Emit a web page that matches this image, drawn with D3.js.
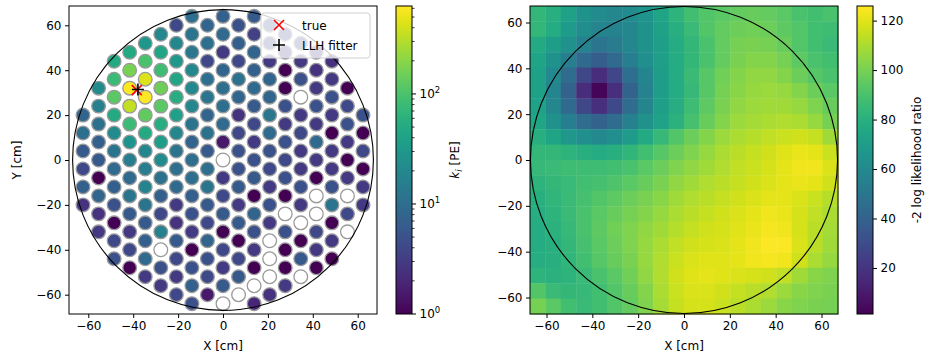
<!DOCTYPE html>
<html>
<head>
<meta charset="utf-8">
<script src="https://cdn.jsdelivr.net/npm/d3@7"></script>
<style>
  body { margin: 0; background: #fff; }
  text { font-family: "DejaVu Sans", sans-serif; fill: #000; }
</style>
</head>
<body>
<svg id="chart" width="927" height="358"></svg>
<script>
// ---- data -------------------------------------------------------------
// PMT hit charge k_i [PE], one array per hexagonal column (col -9 .. 9),
// listed from top to bottom. 0 means no hit (drawn white).
const pmtPitch = 8;          // cm between neighbours in a column
const detectorRadius = 67;   // cm
const pmtColumns = d3.range(-9, 10);
const pmtHits = [
  [8, 10, 6, 4, 7, 2.5],
  [22, 16, 11, 7, 6, 1, 8, 2.5, 3],
  [50, 80, 120, 50, 22, 12, 9, 7, 5, 1, 4, 5],
  [50, 170, 600, 350, 80, 28, 15, 9, 12, 6, 3, 4, 1],
  [30, 100, 450, 600, 130, 50, 20, 15, 18, 12, 6, 7, 9, 3],
  [20, 45, 85, 150, 120, 55, 35, 22, 11, 7, 4, 16, 0, 5, 3],
  [4, 20, 30, 45, 55, 38, 20, 12, 10, 9, 3, 2.5, 6, 4, 3, 4],
  [10, 12, 13, 20, 21, 20, 12, 8, 10, 10, 7, 5, 3, 1, 5, 7, 5],
  [8, 10, 4, 10, 12, 8, 11, 6, 10, 12, 6, 4, 8, 5, 4, 1.5],
  [7, 9, 3, 8, 10, 10, 9, 1.5, 0, 3, 4, 6, 1, 4, 3, 6, 0],
  [5, 7, 4, 11, 8, 2.5, 4, 5, 5, 6, 3, 6, 1, 4, 6, 0],
  [6, 3.5, 8, 7, 9, 6, 4, 3, 5, 6, 1, 8, 5, 3, 1, 0, 2],
  [5, 4, 3, 8, 8, 13, 9, 5, 4, 3, 5, 3, 0, 0, 0, 2.5],
  [4, 3, 1, 1, 5, 3, 5, 4, 5, 1, 0, 5, 1, 1, 3],
  [4, 3, 5, 0, 3, 4, 3, 3, 5, 3, 0, 1, 6, 0],
  [3, 2.5, 3, 5, 3, 9, 3, 1, 0, 0, 4, 3, 1],
  [2.5, 3, 5, 3, 1, 3, 3, 5, 12, 1, 3, 1],
  [1, 4, 5, 3, 1, 3, 0, 4, 0],
  [5, 1, 4, 1, 3, 3]
];

// true vertex and LLH fit result [x, y] in cm
const trueVertex = [-38.4, 31.1];
const fitVertex = [-37.9, 31.4];

// -2 log likelihood ratio scan, 20 x 20 cells over [-67.2, 67.2] cm,
// rows from top (y = +67) to bottom (y = -67)
const scanExtent = [-67.2, 67.2];
const llhScan = [
  [84, 80, 72, 65, 61, 59, 61, 66, 74, 82, 88, 92, 94, 96, 97, 96, 94, 90, 88, 90],
  [84, 78, 69, 62, 58, 57, 59, 65, 72, 80, 86, 92, 96, 98, 99, 98, 95, 92, 88, 87],
  [77, 70, 64, 56, 50, 53, 59, 65, 71, 78, 84, 90, 96, 100, 101, 100, 97, 92, 88, 86],
  [74, 65, 54, 44, 38, 44, 54, 63, 71, 78, 84, 90, 96, 101, 103, 103, 100, 95, 90, 88],
  [72, 60, 45, 28, 17, 28, 46, 58, 70, 78, 86, 93, 99, 103, 105, 105, 103, 98, 93, 90],
  [72, 58, 40, 17, 3, 18, 40, 56, 70, 78, 85, 93, 100, 104, 106, 107, 106, 103, 98, 94],
  [73, 59, 44, 28, 18, 29, 45, 58, 71, 79, 87, 95, 101, 105, 107, 108, 108, 106, 102, 97],
  [75, 64, 54, 45, 40, 45, 55, 64, 73, 81, 89, 97, 103, 107, 109, 110, 111, 110, 106, 100],
  [80, 74, 68, 63, 60, 63, 69, 77, 85, 92, 98, 103, 107, 110, 112, 114, 116, 117, 115, 108],
  [84, 84, 82, 80, 78, 80, 83, 88, 93, 98, 102, 106, 110, 113, 115, 117, 120, 122, 121, 116],
  [85, 86, 87, 87, 87, 88, 90, 94, 98, 102, 105, 108, 111, 114, 116, 118, 121, 123, 123, 119],
  [82, 84, 86, 88, 89, 91, 94, 97, 101, 105, 108, 111, 113, 115, 117, 119, 121, 122, 121, 117],
  [80, 83, 86, 89, 92, 95, 98, 101, 104, 108, 111, 113, 115, 117, 119, 121, 121, 119, 116, 112],
  [79, 82, 86, 90, 94, 97, 100, 103, 106, 110, 113, 115, 117, 119, 121, 123, 122, 118, 114, 110],
  [78, 81, 85, 90, 95, 99, 102, 105, 108, 112, 115, 117, 118, 120, 122, 124, 123, 118, 113, 109],
  [78, 80, 84, 89, 94, 98, 102, 106, 110, 114, 117, 118, 119, 121, 123, 125, 125, 119, 113, 108],
  [79, 80, 83, 88, 93, 97, 101, 106, 111, 116, 119, 120, 120, 121, 123, 124, 123, 117, 110, 106],
  [82, 81, 82, 86, 90, 94, 99, 105, 111, 117, 120, 121, 120, 119, 118, 117, 114, 108, 104, 102],
  [92, 86, 84, 85, 88, 92, 97, 103, 110, 116, 119, 119, 117, 115, 113, 111, 107, 104, 102, 101],
  [100, 94, 88, 86, 88, 92, 96, 102, 109, 115, 118, 118, 116, 113, 110, 107, 104, 102, 101, 100]
];

const axisTicks = [-60, -40, -20, 0, 20, 40, 60];
const hitRange = [1, 630];
const llhRange = [1.4, 125.9];
const llhTicks = [20, 40, 60, 80, 100, 120];

// ---- layout -----------------------------------------------------------
const svg = d3.select('#chart');
const fontSize = 12;
const tickLen = 4;
const fmt = d => d < 0 ? '\u2212' + Math.abs(d) : String(d);

const panelL = {x: 69, y: 6, size: 308};
const panelR = {x: 530, y: 6, size: 308};

const xL = d3.scaleLinear().domain([-68.6, 68.6]).range([panelL.x, panelL.x + panelL.size]);
const yL = d3.scaleLinear().domain([-68.6, 68.6]).range([panelL.y + panelL.size, panelL.y]);
const xR = d3.scaleLinear().domain(scanExtent).range([panelR.x, panelR.x + panelR.size]);
const yR = d3.scaleLinear().domain(scanExtent).range([panelR.y + panelR.size, panelR.y]);

const hitNorm = d3.scaleLog().domain(hitRange).range([0, 1]).clamp(true);
const hitColor = v => v > 0 ? d3.interpolateViridis(hitNorm(v)) : '#ffffff';
const llhColor = d3.scaleSequential(d3.interpolateViridis).domain(llhRange);

function drawAxes(x, y, panel) {
  const gx = svg.append('g')
    .attr('transform', `translate(0,${panel.y + panel.size})`)
    .call(d3.axisBottom(x).tickValues(axisTicks).tickFormat(fmt).tickSize(tickLen).tickPadding(3.5));
  const gy = svg.append('g')
    .attr('transform', `translate(${panel.x},0)`)
    .call(d3.axisLeft(y).tickValues(axisTicks).tickFormat(fmt).tickSize(tickLen).tickPadding(3.5));
  [gx, gy].forEach(g => {
    g.select('.domain').remove();
    g.selectAll('line').attr('stroke', '#000').attr('stroke-width', 1);
    g.selectAll('text').attr('font-size', fontSize).attr('font-family', '"DejaVu Sans", sans-serif').attr('fill', '#000');
  });
  svg.append('rect')
    .attr('x', panel.x).attr('y', panel.y)
    .attr('width', panel.size).attr('height', panel.size)
    .attr('fill', 'none').attr('stroke', '#000').attr('stroke-width', 1);
}

// ---- left panel: PMT hits --------------------------------------------
const colDx = pmtPitch * Math.sqrt(3) / 2;
const pmts = [];
pmtColumns.forEach((c, ci) => {
  const px = c * colDx;
  const offset = Math.abs(c) % 2 === 1 ? pmtPitch / 2 : 0;
  const ys = d3.range(-10, 11).map(k => offset + k * pmtPitch)
    .filter(py => Math.hypot(px, py) <= 66)
    .sort((a, b) => b - a);
  ys.forEach((py, j) => pmts.push({x: px, y: py, k: pmtHits[ci][j]}));
});

const gL = svg.append('g');
const pmtR = xL(3.05) - xL(0);
gL.selectAll('circle.pmt')
  .data(pmts)
  .enter().append('circle')
  .attr('class', 'pmt')
  .attr('cx', d => xL(d.x))
  .attr('cy', d => yL(d.y))
  .attr('r', pmtR)
  .attr('fill', d => hitColor(d.k))
  .attr('stroke', '#9a9a9a')
  .attr('stroke-width', 1.3);

gL.append('circle')
  .attr('cx', xL(0)).attr('cy', yL(0))
  .attr('r', xL(detectorRadius) - xL(0))
  .attr('fill', 'none').attr('stroke', '#000').attr('stroke-width', 1.1);

function crossMarker(g, cx, cy, s, color) {
  g.append('path')
    .attr('d', `M${cx - s},${cy - s}L${cx + s},${cy + s}M${cx - s},${cy + s}L${cx + s},${cy - s}`)
    .attr('stroke', color).attr('stroke-width', 1.6).attr('fill', 'none');
}
function plusMarker(g, cx, cy, s, color) {
  g.append('path')
    .attr('d', `M${cx - s},${cy}L${cx + s},${cy}M${cx},${cy - s}L${cx},${cy + s}`)
    .attr('stroke', color).attr('stroke-width', 1.6).attr('fill', 'none');
}
crossMarker(gL, xL(trueVertex[0]), yL(trueVertex[1]), 5, '#ff0000');
plusMarker(gL, xL(fitVertex[0]), yL(fitVertex[1]), 6, '#000');

// legend
const leg = gL.append('g');
leg.append('rect')
  .attr('x', 261).attr('y', 13).attr('width', 109).attr('height', 45)
  .attr('rx', 3).attr('fill', '#fff').attr('fill-opacity', 0.8)
  .attr('stroke', '#d0d0d0').attr('stroke-width', 1);
crossMarker(leg, 279, 25, 5, '#ff0000');
plusMarker(leg, 279, 45, 6, '#000');
leg.append('text').attr('x', 302).attr('y', 29.5).attr('font-size', fontSize).text('true');
leg.append('text').attr('x', 302).attr('y', 49.5).attr('font-size', fontSize).text('LLH fitter');

drawAxes(xL, yL, panelL);

// ---- right panel: likelihood scan ------------------------------------
const nCells = llhScan.length;
const cellW = (scanExtent[1] - scanExtent[0]) / nCells;
const cells = [];
llhScan.forEach((row, r) => row.forEach((v, c) => cells.push({r, c, v})));
const gR = svg.append('g');
gR.selectAll('rect.cell')
  .data(cells)
  .enter().append('rect')
  .attr('class', 'cell')
  .attr('x', d => xR(scanExtent[0] + d.c * cellW))
  .attr('y', d => yR(scanExtent[1] - d.r * cellW))
  .attr('width', xR(cellW) - xR(0) + 0.4)
  .attr('height', xR(cellW) - xR(0) + 0.4)
  .attr('fill', d => llhColor(d.v));

gR.append('circle')
  .attr('cx', xR(0)).attr('cy', yR(0))
  .attr('r', xR(detectorRadius) - xR(0))
  .attr('fill', 'none').attr('stroke', '#000').attr('stroke-width', 1.1);

drawAxes(xR, yR, panelR);

// ---- colour bars -----------------------------------------------------
const defs = svg.append('defs');
const grad = defs.append('linearGradient').attr('id', 'viridis')
  .attr('x1', 0).attr('y1', 1).attr('x2', 0).attr('y2', 0);
d3.range(0, 1.0001, 1 / 64).forEach(t => {
  grad.append('stop').attr('offset', t).attr('stop-color', d3.interpolateViridis(t));
});

function colorBar(x0, y0, w, h) {
  svg.append('rect').attr('x', x0).attr('y', y0).attr('width', w).attr('height', h)
    .attr('fill', 'url(#viridis)');
  svg.append('rect').attr('x', x0).attr('y', y0).attr('width', w).attr('height', h)
    .attr('fill', 'none').attr('stroke', '#000').attr('stroke-width', 1);
}

// left: log scale
const cbL = {x: 396, y: 6, w: 16, h: 308};
colorBar(cbL.x, cbL.y, cbL.w, cbL.h);
const cbLy = d3.scaleLog().domain(hitRange).range([cbL.y + cbL.h, cbL.y]);
const minorTicks = [];
[1, 10, 100].forEach(dec => d3.range(2, 10).forEach(m => {
  if (m * dec <= hitRange[1]) minorTicks.push(m * dec);
}));
svg.append('g').selectAll('line').data(minorTicks).enter().append('line')
  .attr('x1', cbL.x + cbL.w).attr('x2', cbL.x + cbL.w + 2.5)
  .attr('y1', d => cbLy(d)).attr('y2', d => cbLy(d))
  .attr('stroke', '#000').attr('stroke-width', 0.8);
const majorL = svg.append('g').selectAll('g').data([0, 1, 2]).enter().append('g')
  .attr('transform', d => `translate(${cbL.x + cbL.w},${cbLy(Math.pow(10, d))})`);
majorL.append('line').attr('x2', tickLen).attr('stroke', '#000').attr('stroke-width', 1);
const lblL = majorL.append('text').attr('x', 7.5).attr('dy', '0.32em').attr('font-size', fontSize);
lblL.append('tspan').text('10');
lblL.append('tspan').attr('font-size', 8.5).attr('dy', '-0.55em').text(d => d);

svg.append('text')
  .attr('transform', `translate(459,${cbL.y + cbL.h / 2}) rotate(-90)`)
  .attr('text-anchor', 'middle').attr('font-size', fontSize)
  .call(t => {
    t.append('tspan').attr('font-style', 'italic').text('k');
    t.append('tspan').attr('font-style', 'italic').attr('font-size', 8.5).attr('dy', 2.5).text('i');
    t.append('tspan').attr('dy', -2.5).text(' [PE]');
  });

// right: linear
const cbR = {x: 857, y: 6, w: 16, h: 308};
colorBar(cbR.x, cbR.y, cbR.w, cbR.h);
const cbRy = d3.scaleLinear().domain(llhRange).range([cbR.y + cbR.h, cbR.y]);
const gcb = svg.append('g').attr('transform', `translate(${cbR.x + cbR.w},0)`)
  .call(d3.axisRight(cbRy).tickValues(llhTicks).tickSize(tickLen).tickPadding(3.5));
gcb.select('.domain').remove();
gcb.selectAll('line').attr('stroke', '#000').attr('stroke-width', 1);
gcb.selectAll('text').attr('font-size', fontSize).attr('font-family', '"DejaVu Sans", sans-serif').attr('fill', '#000');

svg.append('text')
  .attr('transform', `translate(921,${cbR.y + cbR.h / 2}) rotate(-90)`)
  .attr('text-anchor', 'middle').attr('font-size', fontSize)
  .text('-2 log likelihood ratio');

// ---- axis labels -----------------------------------------------------
svg.append('text').attr('x', xL(0)).attr('y', 350).attr('text-anchor', 'middle')
  .attr('font-size', fontSize).text('X [cm]');
svg.append('text').attr('x', xR(0)).attr('y', 350).attr('text-anchor', 'middle')
  .attr('font-size', fontSize).text('X [cm]');
svg.append('text')
  .attr('transform', `translate(21,${yL(0)}) rotate(-90)`)
  .attr('text-anchor', 'middle').attr('font-size', fontSize).text('Y [cm]');
</script>
</body>
</html>
